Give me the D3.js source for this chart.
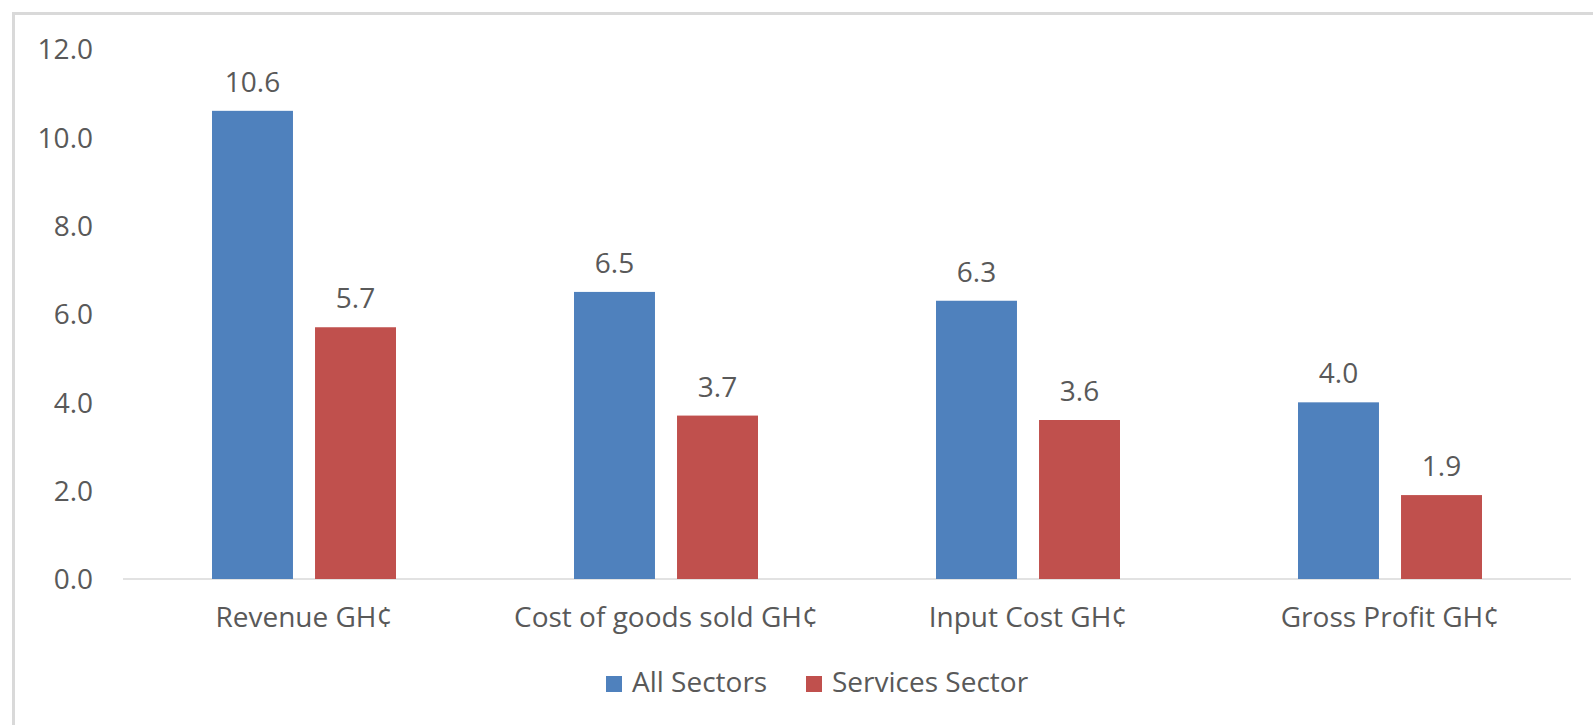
<!DOCTYPE html>
<html>
<head>
<meta charset="utf-8">
<script src="https://cdn.jsdelivr.net/npm/d3@7"></script>
<style>
	body { margin: 0; background: #fff; overflow: hidden; }
	svg { display: block; }
	text { font-family: "Open Sans", sans-serif; fill: #595959; }
</style>
</head>
<body>
<div id="chart"></div>
<script>
categories = ["Revenue GH¢", "Cost of goods sold GH¢", "Input Cost GH¢", "Gross Profit GH¢"];
series = ["All Sectors", "Services Sector"];
allSectors = [10.6, 6.5, 6.3, 4.0];
servicesSector = [5.7, 3.7, 3.6, 1.9];
yTicks = [0, 2, 4, 6, 8, 10, 12];
colors = ["#4F81BD", "#C0504D"];

function drawChart(id) {
	let W = 1593, H = 725, fs = 28;
	let left = 123, right = 1571, top = 49, bottom = 579, groupW = 184;
	var svg = d3.select(id).append("svg")
		.attr("width", W)
		.attr("height", H);

	// frame of the chart area (cut off right and bottom)
	svg.append("rect")
		.attr("x", 13.5).attr("y", 13.5)
		.attr("width", W).attr("height", H)
		.attr("fill", "none")
		.attr("stroke", "#D9D9D9")
		.attr("stroke-width", 3);

	var x0 = d3.scaleBand().domain(categories).range([left, right]);
	var x1 = d3.scaleBand().domain(series).range([0, groupW]).paddingInner(0.214);
	var y = d3.scaleLinear().domain([0, 12]).range([bottom, top]);

	var yAxis = svg.append("g")
		.attr("transform", "translate(103,0)")
		.call(d3.axisLeft(y).tickValues(yTicks).tickFormat(d3.format(".1f")).tickSize(0).tickPadding(10));
	yAxis.select(".domain").remove();
	yAxis.selectAll("text").attr("font-size", fs).attr("font-family", null).attr("fill", null).attr("dy", "0.35em");

	svg.append("line")
		.attr("x1", left).attr("x2", right)
		.attr("y1", y(0)).attr("y2", y(0))
		.attr("stroke", "#D9D9D9")
		.attr("stroke-width", 1.5);

	var rows = categories.map(function(c, i) {
		return {cat: c, vals: [allSectors[i], servicesSector[i]]};
	});

	var g = svg.selectAll(".grp").data(rows).enter().append("g")
		.attr("transform", function(d) { return "translate(" + (x0(d.cat) + (x0.bandwidth() - groupW) / 2) + ",0)"; });

	g.selectAll("rect").data(function(d) { return d.vals; }).enter().append("rect")
		.attr("x", function(d, i) { return x1(series[i]); })
		.attr("y", function(d) { return y(d); })
		.attr("width", x1.bandwidth())
		.attr("height", function(d) { return y(0) - y(d); })
		.attr("fill", function(d, i) { return colors[i]; });

	g.selectAll(".lbl").data(function(d) { return d.vals; }).enter().append("text")
		.attr("class", "lbl")
		.attr("x", function(d, i) { return x1(series[i]) + x1.bandwidth() / 2; })
		.attr("y", function(d) { return y(d) - 19; })
		.attr("text-anchor", "middle")
		.attr("font-size", fs)
		.text(function(d) { return d.toFixed(1); });

	svg.selectAll(".cat").data(categories).enter().append("text")
		.attr("class", "cat")
		.attr("x", function(d) { return x0(d) + x0.bandwidth() / 2; })
		.attr("y", 627)
		.attr("text-anchor", "middle")
		.attr("font-size", fs)
		.text(function(d) { return d; });

	// legend
	var lx = [606, 806];
	var lg = svg.selectAll(".leg").data(series).enter().append("g")
		.attr("transform", function(d, i) { return "translate(" + lx[i] + ",676)"; });
	lg.append("rect")
		.attr("width", 16).attr("height", 16)
		.attr("fill", function(d, i) { return colors[i]; });
	lg.append("text")
		.attr("x", 26).attr("y", 16)
		.attr("font-size", fs)
		.text(function(d) { return d; });
}

window.onload = function () {
	drawChart('#chart');
};
</script>
</body>
</html>
